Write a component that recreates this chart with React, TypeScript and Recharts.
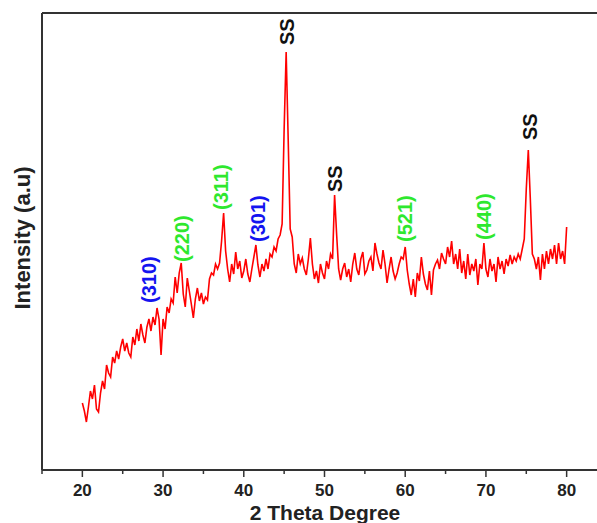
import { LineChart, Line, XAxis, YAxis, ReferenceDot, ReferenceLine } from "recharts";

// XRD intensity (a.u.) sampled every 0.25 deg from 20 to 80 (2 theta)
const intensity = [
  66, 58, 47, 62, 78, 70, 84, 60, 57, 76, 88, 80,
  104, 96, 92, 112, 106, 118, 110, 122, 130, 118, 126, 116,
  112, 132, 124, 140, 128, 145, 134, 126, 142, 150, 138, 152,
  144, 161, 150, 114, 150, 140, 162, 156, 170, 166, 192, 176,
  196, 206, 175, 162, 191, 178, 165, 151, 170, 181, 168, 176,
  165, 172, 169, 190, 196, 194, 205, 200, 206, 228, 256, 218,
  200, 187, 205, 195, 217, 200, 208, 191, 198, 210, 195, 187,
  200, 212, 224, 204, 192, 205, 198, 210, 200, 215, 212, 222,
  218, 230, 234, 245, 340, 417, 330, 240, 232, 205, 196, 215,
  205, 211, 200, 194, 210, 231, 205, 190, 198, 186, 205, 196,
  190, 208, 200, 215, 210, 274, 235, 200, 189, 200, 206, 192,
  200, 187, 205, 216, 200, 194, 210, 217, 195, 199, 208, 212,
  198, 226, 215, 206, 200, 219, 205, 186, 200, 212, 198, 190,
  196, 205, 212, 210, 222, 199, 185, 174, 190, 172, 196, 188,
  212, 195, 185, 179, 198, 174, 199, 205, 209, 200, 216, 210,
  205, 222, 212, 228, 205, 215, 200, 220, 196, 208, 190, 215,
  194, 205, 198, 210, 184, 205, 200, 226, 200, 192, 210, 198,
  205, 187, 212, 200, 208, 195, 210, 203, 214, 205, 212, 208,
  215, 210, 220, 230, 280, 319, 270, 215, 210, 200, 212, 189,
  215, 200, 218, 205, 220, 210, 224, 205, 226, 210, 218, 205,
  242,
];
const startAngle = 20;
const stepAngle = 0.25;
const angles = intensity.map((_, i) => startAngle + i * stepAngle);

const xTicks = [15, 20, 25, 30, 35, 40, 45, 50, 55, 60, 65, 70, 75, 80, 85];

// peak annotations
const peakNames = ["(310)", "(220)", "(311)", "(301)", "SS", "SS", "(521)", "(440)", "SS"];
const peakAngles = [28.3, 32.3, 37.2, 41.7, 45.3, 51.3, 60.0, 69.8, 75.5];
const peakBase = [166, 207, 259, 227, 424, 277, 227, 229, 329];
const peakColors = ["#1414f0", "#2ee82e", "#2ee82e", "#1414f0", "#111", "#111", "#2ee82e", "#2ee82e", "#111"];

const data = angles.map((a, i) => ({ angle: a, counts: intensity[i] }));

const font = "'Liberation Sans', Arial, sans-serif";
const axisColor = "#333";

function AngleTick(props: any) {
  const { x, y, payload } = props;
  const major = payload.value % 10 === 0;
  return (
    <g>
      <line x1={x} x2={x} y1={y} y2={y + (major ? 7 : 4)} stroke={axisColor} strokeWidth={1.5} />
      {major && (
        <text x={x} y={y + 26} textAnchor="middle" fontFamily={font} fontWeight="bold" fontSize={17} fill="#222">
          {payload.value}
        </text>
      )}
    </g>
  );
}

export default function App() {
  return (
    <div style={{ position: "absolute", left: 0, top: 0, width: 597, height: 523, overflow: "hidden", background: "#fff" }}>
      <LineChart width={607} height={523} data={data} margin={{ top: 13, right: 0, bottom: 0, left: 0 }}>
        <XAxis
          dataKey="angle"
          type="number"
          domain={[15, 85]}
          ticks={xTicks}
          interval={0}
          tickLine={false}
          tickSize={0}
          tickMargin={0}
          height={53}
          stroke={axisColor}
          strokeWidth={2}
          tick={<AngleTick />}
          label={{
            content: () => (
              <text x={325} y={520} textAnchor="middle" fontFamily={font} fontWeight="bold" fontSize={21} fill="#222">
                2 Theta Degree
              </text>
            ),
          }}
        />
        <YAxis
          type="number"
          domain={[-1, 456]}
          width={42}
          tick={false}
          tickLine={false}
          stroke={axisColor}
          strokeWidth={2}
          label={{
            content: () => (
              <text
                x={22}
                y={238}
                transform="rotate(-90 22 238)"
                textAnchor="middle"
                dominantBaseline="central"
                fontFamily={font}
                fontWeight="bold"
                fontSize={22}
                fill="#222"
              >
                Intensity (a.u)
              </text>
            ),
          }}
        />
        <ReferenceLine y={456} stroke={axisColor} strokeWidth={2} />
        <Line
          type="linear"
          dataKey="counts"
          stroke="#ff0000"
          strokeWidth={1.6}
          dot={false}
          isAnimationActive={false}
        />
        {peakNames.map((name, i) => (
          <ReferenceDot
            key={i}
            x={peakAngles[i]}
            y={peakBase[i]}
            r={1}
            fill="none"
            stroke="none"
            label={{
              content: (p: any) => {
                const vb = p.viewBox || {};
                const cx = (vb.x ?? 0) + (vb.width ?? 0) / 2;
                const cy = (vb.y ?? 0) + (vb.height ?? 0) / 2;
                return (
                  <text
                    x={cx}
                    y={cy}
                    transform={`rotate(-90 ${cx} ${cy})`}
                    textAnchor="start"
                    dominantBaseline="central"
                    fontFamily={font}
                    fontWeight="bold"
                    fontSize={20}
                    fill={peakColors[i]}
                  >
                    {name}
                  </text>
                );
              },
            }}
          />
        ))}
      </LineChart>
    </div>
  );
}
